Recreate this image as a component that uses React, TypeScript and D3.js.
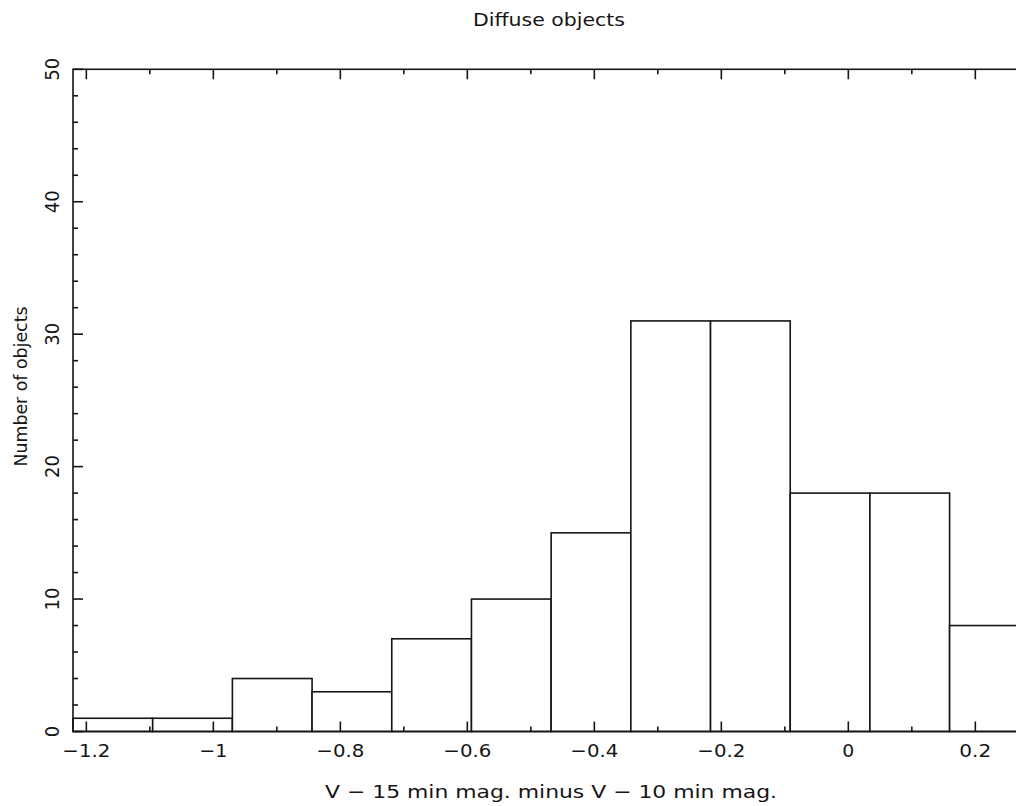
import React from "react";
import * as d3 from "d3";

// Histogram of colour differences for diffuse objects
const binStart = -1.221;
const binWidth = 0.1255;
const counts = [1, 1, 4, 3, 7, 10, 15, 31, 31, 18, 18, 8];

const xMajorTicks = [-1.2, -1, -0.8, -0.6, -0.4, -0.2, 0, 0.2];
const xMinorTicks = [-1.1, -0.9, -0.7, -0.5, -0.3, -0.1, 0.1];
const yMajorTicks = [0, 10, 20, 30, 40, 50];
const yMinorTicks = [2, 4, 6, 8, 12, 14, 16, 18, 22, 24, 26, 28, 32, 34, 36, 38, 42, 44, 46, 48];

const title = "Diffuse objects";
const xTitle = "V \u2212 15 min mag. minus V \u2212 10 min mag.";
const yTitle = "Number of objects";

const W = 1016;
const H = 806;
const FONT = "'DejaVu Sans', sans-serif";
const INK = "#151515";

function fmt(v: number): string {
  const s = d3.format("")(v);
  return s.replace("-", "\u2212");
}

// plotter-style glyph advance: wide minus, fixed digits, roomy point
function labelWidth(s: string, digit = 12): number {
  let w = 0;
  for (const ch of s) {
    if (ch === "\u2212") w += 16;
    else if (ch === ".") w += 8;
    else w += digit;
  }
  return w;
}

export default function App() {
  const nBins = counts.length;
  const x = d3
    .scaleLinear()
    .domain([binStart, binStart + nBins * binWidth])
    .range([73, 1029.3]);
  const y = d3.scaleLinear().domain([0, 50]).range([731.5, 69.3]);

  const [x0, x1] = x.range();
  const [yb, yt] = y.range();
  const bins = counts.map((c, i) => ({
    lo: binStart + i * binWidth,
    hi: binStart + (i + 1) * binWidth,
    c,
  }));

  const sw = 1.6;
  const major = 10;
  const minor = 5;

  return (
    <svg
      width={W}
      height={H}
      viewBox={`0 0 ${W} ${H}`}
      style={{ position: "absolute", left: 0, top: 0, background: "#fff" }}
    >
      <rect x={0} y={0} width={W} height={H} fill="#fff" />

      {/* bars */}
      <g fill="#fff" stroke={INK} strokeWidth={sw}>
        {bins.map((b, i) => (
          <rect
            key={i}
            x={x(b.lo)}
            y={y(b.c)}
            width={x(b.hi) - x(b.lo)}
            height={y(0) - y(b.c)}
          />
        ))}
      </g>

      {/* frame */}
      <rect
        x={x0}
        y={yt}
        width={x1 - x0}
        height={yb - yt}
        fill="none"
        stroke={INK}
        strokeWidth={sw}
      />

      {/* ticks on all drawn sides, pointing inward */}
      <g stroke={INK} strokeWidth={sw}>
        {xMajorTicks.map((t) => (
          <g key={"xM" + t}>
            <line x1={x(t)} x2={x(t)} y1={yb} y2={yb - major} />
            <line x1={x(t)} x2={x(t)} y1={yt} y2={yt + major} />
          </g>
        ))}
        {xMinorTicks.map((t) => (
          <g key={"xm" + t}>
            <line x1={x(t)} x2={x(t)} y1={yb} y2={yb - minor} />
            <line x1={x(t)} x2={x(t)} y1={yt} y2={yt + minor} />
          </g>
        ))}
        {yMajorTicks.map((t) => (
          <line key={"yM" + t} x1={x0} x2={x0 + major} y1={y(t)} y2={y(t)} />
        ))}
        {yMinorTicks.map((t) => (
          <line key={"ym" + t} x1={x0} x2={x0 + minor} y1={y(t)} y2={y(t)} />
        ))}
      </g>

      {/* tick labels */}
      <g fontFamily={FONT} fontSize={18} fill={INK}>
        {xMajorTicks.map((t) => (
          <text
            key={"xl" + t}
            x={x(t)}
            y={756.5}
            textAnchor="middle"
            textLength={labelWidth(fmt(t))}
            lengthAdjust="spacingAndGlyphs"
          >
            {fmt(t)}
          </text>
        ))}
      </g>
      <g fontFamily={FONT} fontSize={20} fill={INK}>
        {yMajorTicks.map((t) => (
          <text
            key={"yl" + t}
            transform={`translate(59,${y(t)}) rotate(-90)`}
            textAnchor="middle"
            textLength={labelWidth(fmt(t), 11.5)}
            lengthAdjust="spacingAndGlyphs"
          >
            {fmt(t)}
          </text>
        ))}
      </g>

      {/* titles */}
      <g fontFamily={FONT} fontSize={18} fill={INK}>
        <text
          x={549}
          y={26}
          textAnchor="middle"
          textLength={152}
          lengthAdjust="spacingAndGlyphs"
        >
          {title}
        </text>
        <text
          x={551}
          y={797.5}
          textAnchor="middle"
          textLength={452}
          lengthAdjust="spacingAndGlyphs"
        >
          {xTitle}
        </text>
        <text
          transform="translate(26.5,386.5) rotate(-90)"
          textAnchor="middle"
          textLength={160}
          lengthAdjust="spacingAndGlyphs"
        >
          {yTitle}
        </text>
      </g>
    </svg>
  );
}
